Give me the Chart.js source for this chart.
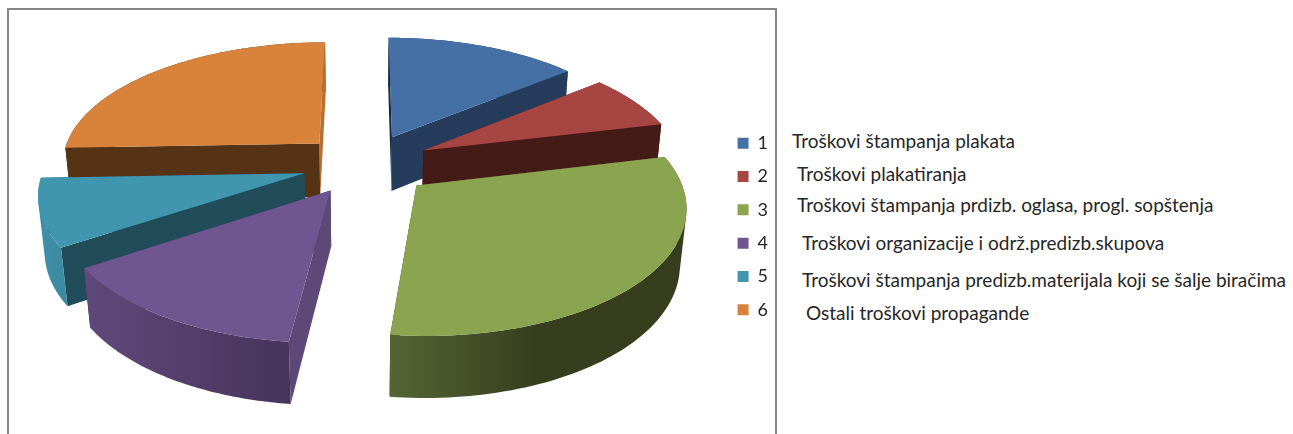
<!DOCTYPE html>
<html>
<head>
<meta charset="utf-8">
<title>Troškovi propagande</title>
<script src="https://cdn.jsdelivr.net/npm/chart.js@4"></script>
<style>
  html, body { margin: 0; background: #fff; overflow: hidden; width: 1293px; height: 434px; }
  #frame { position: absolute; left: 7px; top: 8px; width: 766px; height: 500px; border: 2px solid #868686; }
  #chart { position: absolute; left: 0; top: 0; }
  #notes span {
    position: absolute; white-space: nowrap; color: #262626;
    font: 19px Lato, sans-serif; line-height: 20px;
  }
  #notes span:nth-child(1) { left: 792px; top: 131px; }
  #notes span:nth-child(2) { left: 797px; top: 164px; }
  #notes span:nth-child(3) { left: 797px; top: 195px; }
  #notes span:nth-child(4) { left: 802px; top: 233px; }
  #notes span:nth-child(5) { left: 802px; top: 270px; }
  #notes span:nth-child(6) { left: 806px; top: 303px; }
</style>
</head>
<body>
<div id="frame"></div>
<canvas id="chart" width="778" height="434"></canvas>
<div id="notes"></div>
<script>
const categories = ["1", "2", "3", "4", "5", "6"];
const descriptions = [
  "Troškovi štampanja plakata",
  "Troškovi plakatiranja",
  "Troškovi štampanja prdizb. oglasa, progl. sopštenja",
  "Troškovi organizacije i održ.predizb.skupova",
  "Troškovi štampanja predizb.materijala koji se šalje biračima",
  "Ostali troškovi propagande",
];
const values = [14.1, 7.2, 30.5, 13.9, 8.7, 25.6];

const topColors = ["#4470a5", "#a64542", "#8aa44f", "#6f5690", "#4096ae", "#d8823b"];
// start wall, end wall, then outer wall left to right
const startWalls = ["#17283f", "#451b18", "#556534", "#5e4878", "#214d5b", "#573316"];
const endWalls = ["#263c5c", "#451b18", "#363e1e", "#3c2c50", "#214d5b", "#b8702f"];
const outerWalls = [
  ["#263c5c", "#263c5c"],
  ["#451b18", "#451b18"],
  ["#556534", "#363e1e", "#363e1e"],
  ["#60497a", "#46345a"],
  ["#3f90aa", "#3b8aa0"],
  ["#573316", "#573316"],
];
const explode = [65, 66, 67, 64, 63, 65];

// perspective, fitted by eye against the picture
const VIEW = { cx: 365, cy: 164, tilt: 0.469, persp: 0.000568, radius: 259, depth: 56, sink: 0.02 };

function project(x, y, low) {
  const w = 1 - VIEW.persp * y + (low ? VIEW.sink : 0);
  return [VIEW.cx + x / w, VIEW.cy + (VIEW.tilt * y + (low ? VIEW.depth : 0)) / w];
}

function signedArea(pts) {
  let sum = 0;
  pts.forEach((p, i) => {
    const q = pts[(i + 1) % pts.length];
    sum += p[0] * q[1] - q[0] * p[1];
  });
  return sum;
}

// every polygon goes into one path with the same winding, so no seams and no holes
function fillPolys(ctx, polys, fill) {
  ctx.beginPath();
  polys.forEach((poly) => {
    const pts = signedArea(poly) < 0 ? poly.slice().reverse() : poly;
    pts.forEach((p, i) => (i ? ctx.lineTo(p[0], p[1]) : ctx.moveTo(p[0], p[1])));
    ctx.closePath();
  });
  ctx.fillStyle = fill;
  ctx.fill();
}

function drawSlice(ctx, arc, index) {
  const mid = (arc.startAngle + arc.endAngle) / 2;
  const off = arc.options.offset;
  const ox = Math.cos(mid) * off;
  const oy = Math.sin(mid) * off;
  const r = VIEW.radius;

  const rim = [];
  const steps = 80;
  for (let i = 0; i <= steps; i++) {
    const a = arc.startAngle + ((arc.endAngle - arc.startAngle) * i) / steps;
    rim.push([ox + Math.cos(a) * r, oy + Math.sin(a) * r]);
  }
  const hi = (p) => project(p[0], p[1], false);
  const lo = (p) => project(p[0], p[1], true);
  const tip = [ox, oy];
  const first = rim[0];
  const last = rim[steps];

  const xs = rim.map(hi).concat(rim.map(lo)).map((p) => p[0]);
  const grad = ctx.createLinearGradient(Math.min(...xs), 0, Math.max(...xs), 0);
  const stops = outerWalls[index];
  stops.forEach((c, i) => grad.addColorStop(i / (stops.length - 1), c));

  const strips = [];
  for (let i = 0; i < steps; i++) {
    strips.push([hi(rim[i]), hi(rim[i + 1]), lo(rim[i + 1]), lo(rim[i])]);
  }

  const walls = [
    { y: (tip[1] + first[1]) / 2, polys: [[hi(tip), hi(first), lo(first), lo(tip)]], fill: startWalls[index] },
    { y: (tip[1] + last[1]) / 2, polys: [[hi(tip), hi(last), lo(last), lo(tip)]], fill: endWalls[index] },
    { y: oy + Math.sin(mid) * r, polys: strips, fill: grad },
  ];
  walls.sort((a, b) => a.y - b.y).forEach((w) => fillPolys(ctx, w.polys, w.fill));

  fillPolys(ctx, [[hi(tip)].concat(rim.map(hi))], arc.options.backgroundColor);
}

const pie3d = {
  id: "pie3d",
  beforeDatasetsDraw(chart) {
    const ctx = chart.ctx;
    const arcs = chart.getDatasetMeta(0).data;
    const order = arcs.map((a, i) => i).sort((a, b) => {
      const mid = (i) => Math.sin((arcs[i].startAngle + arcs[i].endAngle) / 2);
      return mid(a) - mid(b);
    });
    ctx.save();
    order.forEach((i) => drawSlice(ctx, arcs[i], i));
    ctx.restore();
    return false;
  },
};

new Chart(document.getElementById("chart"), {
  type: "pie",
  data: {
    labels: categories,
    datasets: [{ data: values, backgroundColor: topColors, borderWidth: 0, offset: explode }],
  },
  options: {
    responsive: false,
    animation: false,
    layout: { padding: { top: 19, right: 0 } },
    plugins: {
      tooltip: { enabled: false },
      legend: {
        position: "right",
        labels: {
          boxWidth: 11,
          boxHeight: 11,
          padding: 15.3,
          color: "#262626",
          font: { family: "Lato, sans-serif", size: 18 },
        },
      },
    },
  },
  plugins: [pie3d],
});

const notes = document.getElementById("notes");
descriptions.forEach((t) => {
  const s = document.createElement("span");
  s.textContent = t;
  notes.appendChild(s);
});
</script>
</body>
</html>
